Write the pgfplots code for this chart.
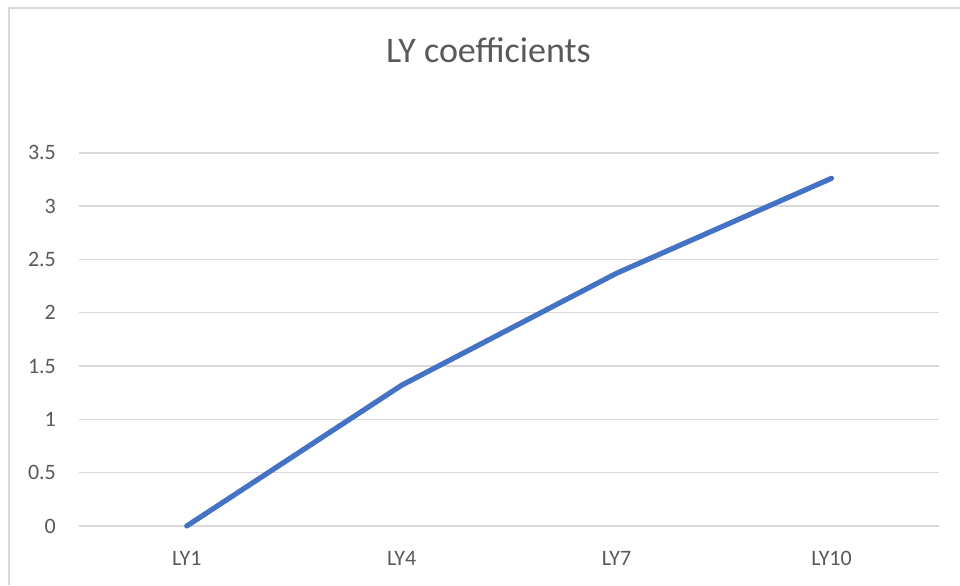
\documentclass[border=0pt]{standalone}
\usepackage{pgfplots}
\pgfplotsset{compat=1.18}
\usepackage{fontspec}
\setmainfont{Carlito}
\definecolor{linec}{HTML}{4472C4}
\definecolor{gridc}{HTML}{D9D9D9}
\definecolor{textc}{HTML}{595959}
\begin{document}
\begin{tikzpicture}
\useasboundingbox (0,0) rectangle (480pt,292.5pt);
\draw[gridc, line width=0.8pt] (4.5pt,0pt) -- (4.5pt,288.5pt) -- (480pt,288.5pt);
\node[text=textc, font=\fontsize{18}{22}\selectfont] at (244.25pt,267.5pt) {LY coefficients};
\begin{axis}[
  at={(39.65pt,29.5pt)}, anchor=south west,
  scale only axis, width=429.85pt, height=186.65pt,
  xmin=-0.5, xmax=3.5, ymin=0, ymax=3.5,
  xtick={0,1,2,3}, xticklabels={LY1,LY4,LY7,LY10},
  ytick={0,0.5,1,1.5,2,2.5,3,3.5},
  yticklabels={0,0.5,1,1.5,2,2.5,3,3.5},
  ymajorgrids, major grid style={gridc, line width=0.8pt},
  axis line style={draw=none},
  major tick length=0pt,
  /pgf/number format/assume math mode=true,
  tick label style={text=textc, font=\fontsize{11}{13}\selectfont, inner sep=0pt},
  yticklabel style={anchor=east, xshift=-11.5pt},
  xticklabel style={anchor=north, yshift=-12.5pt},
  clip=false,
]
\addplot[linec, line width=2.6pt, line cap=round, line join=round] coordinates {
  (0,0) (1,1.32) (2,2.37) (3,3.26)
};
\end{axis}
\end{tikzpicture}
\end{document}
